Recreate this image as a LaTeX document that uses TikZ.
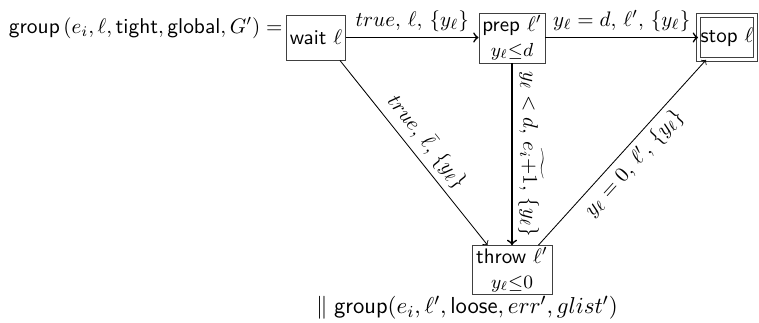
\documentclass[tikz,border=0pt]{standalone}
\begin{document}
\def\pxu{0.476pt}
\begin{tikzpicture}[x=\pxu, y=-\pxu,
  state/.style={draw=black!75, thin, inner sep=1pt, align=center,
                font=\sffamily, text=black},
  flow/.style={thick, ->},
  jump/.style={thin, ->},
  lbl/.style={inner sep=2.5pt}]
\useasboundingbox (0,0) rectangle (759,323);

% left-hand side of the definition
\node[anchor=east, inner sep=0pt, font=\fontsize{10.2}{12}\selectfont] (title) at (283,28)
  {$\textsf{group}\,(e_i,\ell,\textsf{tight},\textsf{global},G')=$};

% locations of the automaton
\node[state, minimum width={59*\pxu}, minimum height={45*\pxu}] (wait) at (316,37.5)
  {wait $\ell$};
\node[state, minimum width={66*\pxu}, minimum height={50*\pxu}] (prep) at (512,38)
  {prep $\ell'$\\[0pt] {\small $y_\ell{\le}d$}};
\node[state, double, double distance=1.2pt, minimum width={57*\pxu},
      minimum height={44*\pxu}] (stop) at (727,37.5)
  {stop $\ell$};
\node[state, minimum width={80*\pxu}, minimum height={42*\pxu}] (throw) at (512,270)
  {throw $\ell'$\\[0pt] {\small $y_\ell{\le}0$}};

% parallel composition below
\node[inner sep=0pt, font=\fontsize{11}{13}\selectfont] (par) at (467,308)
  {$\parallel\textsf{group}(e_i,\ell',\textsf{loose},err',glist')$};

% transitions
\draw[flow] (wait.east |- 0,37.5) -- (prep.west |- 0,37.5)
  node[midway, above, lbl] {$true,\,\ell,\,\{y_\ell\}$};
\draw[flow] (prep.east |- 0,37.5) -- (stop.west |- 0,37.5)
  node[midway, above, lbl] {$y_\ell=d,\,\ell',\,\{y_\ell\}$};
\draw[flow] (prep.south) -- (throw.north)
  node[midway, above, sloped, lbl] {$y_\ell<d,\,\widetilde{e_i{+}1},\,\{y_\ell\}$};
\draw[jump] ([xshift={-6*\pxu}]wait.south east) -- ([xshift={16*\pxu}]throw.north west)
  node[midway, above, sloped, lbl] {$true,\,\bar\ell,\,\{y_\ell\}$};
\draw[jump] ([xshift={-14*\pxu}]throw.north east) -- ([xshift={8*\pxu}]stop.south west)
  node[midway, below, sloped, lbl] {$y_\ell=0,\,\ell',\,\{y_\ell\}$};
\end{tikzpicture}
\end{document}
